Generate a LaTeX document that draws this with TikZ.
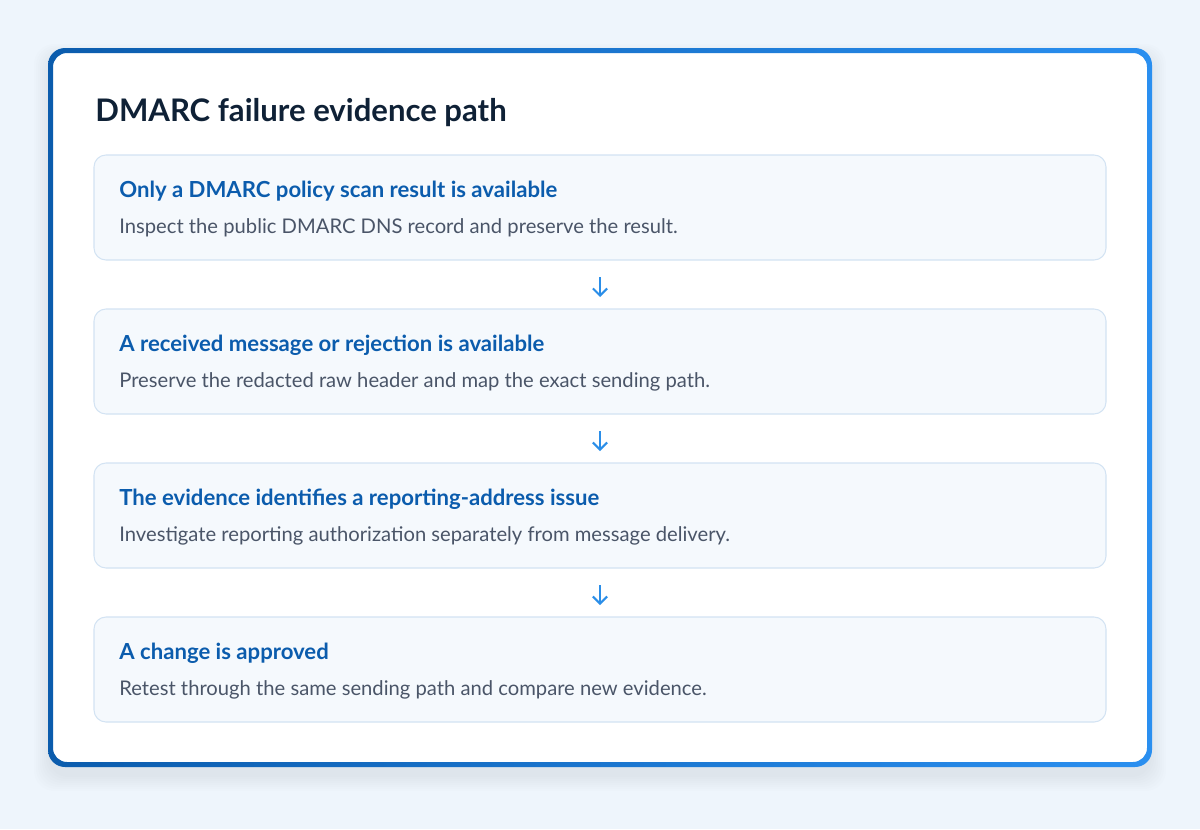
\documentclass[tikz,border=0pt]{standalone}
\usepackage{fontspec}
\setmainfont{Lato}
\usetikzlibrary{arrows.meta}
\definecolor{bg}{HTML}{EEF5FC}
\definecolor{titlec}{HTML}{0F2136}
\definecolor{headc}{HTML}{0B5CAD}
\definecolor{subc}{HTML}{4A5568}
\definecolor{boxfill}{HTML}{F5F9FD}
\definecolor{boxline}{HTML}{D3E3F3}
\definecolor{arrc}{HTML}{2B8EE8}
\definecolor{bordl}{HTML}{0B5CAD}
\definecolor{bordr}{HTML}{2A8FF0}
\tikzset{
  x=0.02cm,y=-0.02cm,
  stepbox/.style={draw=boxline,line width=0.6pt,fill=boxfill,rounded corners=0.24cm},
  head/.style={anchor=base west,text=headc,font=\fontsize{12.6}{14}\selectfont\bfseries,inner sep=0pt},
  sub/.style={anchor=base west,text=subc,font=\fontsize{11.5}{13}\selectfont,inner sep=0pt},
  darr/.style={draw=arrc,line width=1.2pt,-{Straight Barb[length=4pt,width=8pt]}}
}
\begin{document}
\begin{tikzpicture}
\fill[bg] (0,0) rectangle (1200,829);
\useasboundingbox (0,0) rectangle (1200,829);
\foreach \k in {1,...,8}{
 \fill[black,opacity=0.008,rounded corners=0.4cm] (50-2*\k,56-1.5*\k) rectangle (1150+2*\k,775+2*\k);
}
\fill[white,rounded corners=0.32cm] (50,50) rectangle (1150,765);
\shade[left color=bordl,right color=bordr,rounded corners=0.34cm,even odd rule] (48,48) rectangle (1152,767) [rounded corners=0.28cm] (53,53) rectangle (1147,762);
\node[anchor=base west,inner sep=0pt,text=titlec,font=\fontsize{17.7}{20}\selectfont\bfseries] (title) at (95,121) {DMARC failure evidence path};
\foreach \i/\t/\h/\s in {
 1/155/{Only a DMARC policy scan result is available}/{Inspect the public DMARC DNS record and preserve the result.},
 2/309/{A received message or rejection is available}/{Preserve the redacted raw header and map the exact sending path.},
 3/463/{The evidence identifies a reporting-address issue}/{Investigate reporting authorization separately from message delivery.},
 4/617/{A change is approved}/{Retest through the same sending path and compare new evidence.}}{
 \draw[stepbox] (94,\t) rectangle (1106,\t+105);
 \node[head] (h\i) at (119,\t+42) {\h};
 \node[sub] (s\i) at (119,\t+78) {\s};
 \coordinate (b\i) at (600,\t+122);
 \coordinate (t\i) at (600,\t-12);
}
\foreach \i/\j in {1/2,2/3,3/4}{
 \draw[darr] (b\i) -- (t\j);
}
\end{tikzpicture}
\end{document}
